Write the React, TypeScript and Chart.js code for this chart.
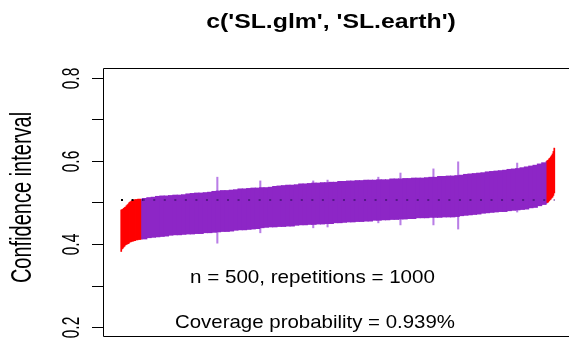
import { useEffect, useRef } from 'react';
import { Chart, registerables } from 'chart.js';

Chart.register(...registerables);

const TITLE = "c('SL.glm', 'SL.earth')";
const Y_LABEL = 'Confidence interval';
const NOTE_1 = 'n = 500, repetitions = 1000';
const NOTE_2 = 'Coverage probability = 0.939%';

const TRUTH = 0.506;
const N_REPS = 1000;
const FIRST_COVERED_REP = 51;

const Y_TICKS = [0.2, 0.3, 0.4, 0.5, 0.6, 0.7, 0.8];
const Y_TICK_LABELS = ['0.2', '', '0.4', '', '0.6', '', '0.8'];

// Sorted intervals. Middle part: envelope of 10 consecutive repetitions (reps 51..980)
const MID_FIRST_REP = 51;
const MID_GROUP = 10;
const MID_LOWER = [
  0.412, 0.415, 0.416, 0.417, 0.418,
  0.419, 0.421, 0.422, 0.422, 0.423, 0.424, 0.424, 0.425, 0.425, 0.427,
  0.427, 0.428, 0.429, 0.430, 0.430, 0.431, 0.433, 0.434, 0.434, 0.435,
  0.436, 0.437, 0.439, 0.440, 0.441, 0.441, 0.442, 0.442, 0.443, 0.443,
  0.445, 0.446, 0.446, 0.447, 0.447, 0.448, 0.448, 0.449, 0.449, 0.451,
  0.451, 0.452, 0.453, 0.453, 0.454, 0.454, 0.455, 0.455, 0.457, 0.457,
  0.458, 0.458, 0.459, 0.459, 0.460, 0.460, 0.461, 0.461, 0.463, 0.463,
  0.463, 0.464, 0.464, 0.464, 0.465, 0.465, 0.465, 0.466, 0.468, 0.469,
  0.470, 0.471, 0.472, 0.474, 0.475, 0.476, 0.477, 0.478, 0.478, 0.480,
  0.481, 0.482, 0.483, 0.484, 0.487, 0.488, 0.492, 0.495,
];
const MID_UPPER = [
  0.510, 0.512, 0.513, 0.515, 0.516,
  0.516, 0.517, 0.518, 0.518, 0.519, 0.521, 0.522, 0.523, 0.523, 0.524,
  0.525, 0.527, 0.528, 0.529, 0.529, 0.530, 0.531, 0.533, 0.533, 0.534,
  0.535, 0.535, 0.536, 0.536, 0.537, 0.539, 0.540, 0.541, 0.542, 0.542,
  0.543, 0.545, 0.545, 0.546, 0.547, 0.547, 0.548, 0.548, 0.549, 0.549,
  0.551, 0.551, 0.552, 0.552, 0.553, 0.553, 0.554, 0.554, 0.554, 0.555,
  0.555, 0.555, 0.557, 0.557, 0.557, 0.558, 0.558, 0.559, 0.559, 0.559,
  0.560, 0.561, 0.561, 0.563, 0.563, 0.564, 0.564, 0.565, 0.566, 0.568,
  0.569, 0.570, 0.571, 0.572, 0.574, 0.575, 0.576, 0.577, 0.578, 0.580,
  0.581, 0.582, 0.584, 0.586, 0.588, 0.590, 0.593, 0.596,
];

// Ends: envelope of 2 consecutive repetitions (reps 1..50 and 981..1000)
const END_GROUP = 2;
const LEFT_FIRST_REP = 1;
const LEFT_LOWER = [
  0.382, 0.388, 0.390, 0.393, 0.395, 0.398, 0.399, 0.400, 0.401, 0.402,
  0.405, 0.405, 0.406, 0.407, 0.407, 0.408, 0.408, 0.410, 0.410, 0.410,
  0.411, 0.411, 0.411, 0.412, 0.412,
];
const LEFT_UPPER = [
  0.482, 0.483, 0.484, 0.486, 0.488, 0.489, 0.492, 0.494, 0.496, 0.499,
  0.501, 0.502, 0.504, 0.505, 0.506, 0.506, 0.507, 0.507, 0.507, 0.508,
  0.508, 0.508, 0.508, 0.508, 0.508,
];
const RIGHT_FIRST_REP = 981;
const RIGHT_LOWER = [0.498, 0.500, 0.501, 0.504, 0.506, 0.508, 0.511, 0.513, 0.517, 0.523];
const RIGHT_UPPER = [0.599, 0.601, 0.602, 0.605, 0.607, 0.610, 0.613, 0.617, 0.623, 0.631];

// Repetitions whose interval misses the truth: 1..48 and 983..1000
const MISSED_RANGES = [
  [1, 48],
  [983, 1000],
];

// Individual unusually wide intervals
const SPIKE_REPS = [223, 322, 444, 477, 594, 645, 721, 778, 914];
const SPIKE_LOWER = [0.402, 0.427, 0.439, 0.441, 0.451, 0.446, 0.446, 0.436, 0.477];
const SPIKE_UPPER = [0.561, 0.552, 0.552, 0.554, 0.561, 0.571, 0.581, 0.598, 0.595];

const PURPLE = '#8d26c6';
const RED = '#ff0000';
const SPIKE_PURPLE = '#b97ee6';
const DOT_ON_BAND = '#56188a';

const FONT = '"Liberation Sans", Arial, Helvetica, sans-serif';

function isMissed(firstRep: number, lastRep: number) {
  return MISSED_RANGES.some(([a, b]) => firstRep >= a && lastRep <= b);
}

function buildGroups(firstRep: number, size: number, lower: number[], upper: number[]) {
  const data = lower.map((lo, i) => ({
    x: firstRep + i * size + (size - 1) / 2,
    y: [lo, upper[i]],
  }));
  const colors = lower.map((_, i) => {
    const a = firstRep + i * size;
    return isMissed(a, a + size - 1) ? RED : PURPLE;
  });
  return { data, colors };
}

function drawText(
  ctx: CanvasRenderingContext2D,
  text: string,
  x: number,
  y: number,
  font: string,
  stretch: number,
  rotate: boolean,
  baseline: CanvasTextBaseline,
) {
  ctx.save();
  ctx.translate(x, y);
  if (rotate) {
    ctx.rotate(-Math.PI / 2);
    ctx.scale(1, stretch);
  } else {
    ctx.scale(stretch, 1);
  }
  ctx.font = font;
  ctx.fillStyle = '#000';
  ctx.textAlign = 'center';
  ctx.textBaseline = baseline;
  ctx.fillText(text, 0, 0);
  ctx.restore();
}

const framePlugin = {
  id: 'rFrame',
  afterDraw(chart: any) {
    const ctx: CanvasRenderingContext2D = chart.ctx;
    const { left, top, right, bottom } = chart.chartArea;
    const yScale = chart.scales.y;
    ctx.save();
    ctx.strokeStyle = '#000';
    ctx.lineWidth = 1;
    ctx.beginPath();
    ctx.moveTo(right, top + 0.5);
    ctx.lineTo(left + 0.5, top + 0.5);
    ctx.lineTo(left + 0.5, bottom - 0.5);
    ctx.lineTo(right, bottom - 0.5);
    ctx.stroke();
    Y_TICKS.forEach((v, i) => {
      const py = Math.round(yScale.getPixelForValue(v)) + 0.5;
      ctx.beginPath();
      ctx.moveTo(left - 11, py);
      ctx.lineTo(left + 0.5, py);
      ctx.stroke();
      const lab = Y_TICK_LABELS[i];
      if (lab) drawText(ctx, lab, 72, py, `15.5px ${FONT}`, 1.6, true, 'middle');
    });
    ctx.restore();
    drawText(ctx, Y_LABEL, 23, (top + bottom) / 2 - 5, `20px ${FONT}`, 1.48, true, 'middle');
    drawText(ctx, TITLE, 331, 27.5, `bold 20px ${FONT}`, 1.24, false, 'alphabetic');
    drawText(ctx, NOTE_1, 312.5, 283.3, `18.6px ${FONT}`, 1.107, false, 'alphabetic');
    drawText(ctx, NOTE_2, 315, 327.5, `18.6px ${FONT}`, 1.099, false, 'alphabetic');
  },
};

export default function App() {
  const canvasRef = useRef<HTMLCanvasElement | null>(null);

  useEffect(() => {
    const canvas = canvasRef.current;
    if (!canvas) return;
    const mid = buildGroups(MID_FIRST_REP, MID_GROUP, MID_LOWER, MID_UPPER);
    const leftEnd = buildGroups(LEFT_FIRST_REP, END_GROUP, LEFT_LOWER, LEFT_UPPER);
    const rightEnd = buildGroups(RIGHT_FIRST_REP, END_GROUP, RIGHT_LOWER, RIGHT_UPPER);
    const spikeData = SPIKE_REPS.map((r, i) => ({ x: r, y: [SPIKE_LOWER[i], SPIKE_UPPER[i]] }));

    const barBase = {
      barPercentage: 1,
      categoryPercentage: 1,
      grouped: false,
      borderWidth: 0,
    };

    const chart = new Chart(canvas, {
      type: 'bar',
      data: {
        datasets: [
          {
            type: 'line',
            label: 'truth',
            data: [
              { x: 1, y: TRUTH },
              { x: FIRST_COVERED_REP, y: TRUTH },
              { x: N_REPS, y: TRUTH },
            ],
            borderColor: DOT_ON_BAND,
            borderWidth: 2,
            borderDash: [2, 8.54],
            borderCapStyle: 'butt',
            pointRadius: 0,
            fill: false,
            segment: {
              borderColor: (c: any) => (c.p0.parsed.x < FIRST_COVERED_REP ? '#000000' : DOT_ON_BAND),
            },
            order: 0,
          } as any,
          { label: 'left', data: leftEnd.data as any, backgroundColor: leftEnd.colors, barThickness: 1.05, ...barBase, order: 1 },
          { label: 'right', data: rightEnd.data as any, backgroundColor: rightEnd.colors, barThickness: 1.05, ...barBase, order: 1 },
          { label: 'mid', data: mid.data as any, backgroundColor: mid.colors, barThickness: 4.7, ...barBase, order: 2 },
          { label: 'spikes', data: spikeData as any, backgroundColor: SPIKE_PURPLE, barThickness: 1.4, ...barBase, order: 3 },
        ],
      },
      options: {
        responsive: false,
        animation: false,
        events: [],
        devicePixelRatio: 1,
        layout: { padding: { left: 103, top: 68, right: 0, bottom: 5 } },
        plugins: { legend: { display: false }, tooltip: { enabled: false }, title: { display: false } },
        scales: {
          x: { type: 'linear', min: -40.5, max: 1033.4, display: false, offset: false },
          y: { type: 'linear', min: 0.176, max: 0.824, display: false },
        },
      },
      plugins: [framePlugin],
    });
    return () => chart.destroy();
  }, []);

  return (
    <div style={{ position: 'absolute', left: 0, top: 0, width: 569, height: 342, overflow: 'hidden', background: '#fff' }}>
      <canvas ref={canvasRef} width={569} height={342} style={{ display: 'block' }} />
    </div>
  );
}
